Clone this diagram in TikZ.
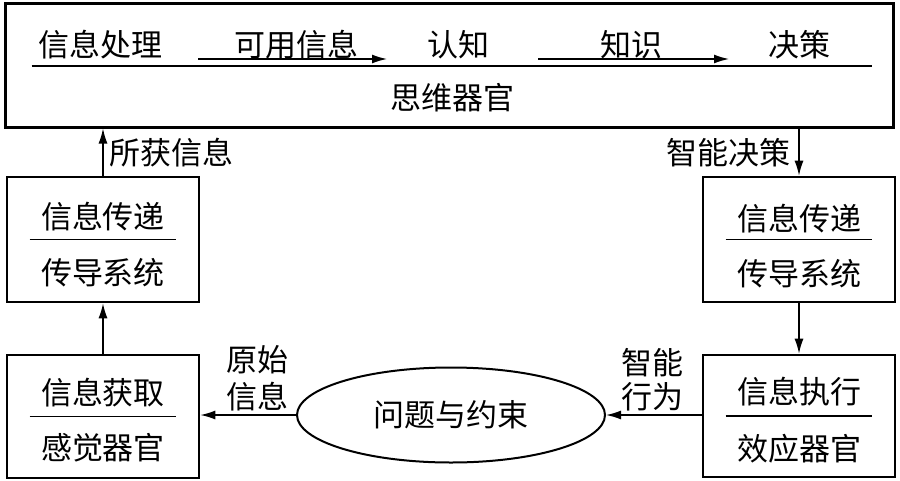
\documentclass[tikz,border=0pt]{standalone}
\usepackage{fontspec}
\setmainfont{Noto Sans CJK SC}
\usetikzlibrary{arrows.meta,calc,shapes.geometric}
\begin{document}
\begin{tikzpicture}[x=1pt,y=-1pt,
  txt/.style={font=\fontsize{31}{34}\selectfont, inner sep=0pt},
  box/.style={draw, line width=2.6pt, rectangle, inner sep=0pt},
  arr/.style={line width=1.5pt, -{Latex[length=15pt,width=9pt]}},
  divider/.style={line width=1.5pt}]
\useasboundingbox[fill=white] (0,0) rectangle (900,480);
% boxes
\node[box, line width=3pt, minimum width=888pt, minimum height=124pt] (top) at (449,65) {};
\node[box, minimum width=192pt, minimum height=125pt] (lm) at (103,239.5) {};
\node[box, minimum width=192pt, minimum height=123pt] (lb) at (103,416.5) {};
\node[box, minimum width=192pt, minimum height=125pt] (rm) at (799,239.5) {};
\node[box, minimum width=192pt, minimum height=122pt] (rb) at (799,416) {};
\node[draw, ellipse, line width=2pt, minimum width=308pt, minimum height=95pt, inner sep=0pt, txt] (ell) at (451,415) {问题与约束};
% top box content
\node[txt] (t1) at (100,45) {信息处理};
\node[txt] (t2) at (296,45) {可用信息};
\node[txt] (t3) at (458,45) {认知};
\node[txt] (t4) at (631,45) {知识};
\node[txt] (t5) at (799,45) {决策};
\node[txt] (t6) at (452,98) {思维器官};
\coordinate (a1s) at (198,59);
\coordinate (a1e) at (387,59);
\coordinate (a2s) at (538,59);
\coordinate (a2e) at (729,59);
\draw[arr] (a1s) -- (a1e);
\draw[arr] (a2s) -- (a2e);
\draw[divider] ($(top.west)+(28,1)$) -- ($(top.east)+(-23,1)$);
% side boxes content
\node[txt] (lm1) at (103,217) {信息传递};
\node[txt] (lm2) at (103,273) {传导系统};
\draw[divider] ($(lm.west)+(24,0)$) -- ($(lm.east)+(-24,0)$);
\node[txt] (lb1) at (103,393) {信息获取};
\node[txt] (lb2) at (103,448) {感觉器官};
\draw[divider] ($(lb.west)+(24,0)$) -- ($(lb.east)+(-24,0)$);
\node[txt] (rm1) at (799,219) {信息传递};
\node[txt] (rm2) at (799,274) {传导系统};
\draw[divider] ($(rm.west)+(24,0)$) -- ($(rm.east)+(-24,0)$);
\node[txt] (rb1) at (799,392) {信息执行};
\node[txt] (rb2) at (799,449) {效应器官};
\draw[divider] ($(rb.west)+(24,0)$) -- ($(rb.east)+(-24,0)$);
% connectors
\draw[arr] (lm.north) -- (lm.north |- top.south);
\draw[arr] (lb.north) -- (lm.south);
\draw[arr] (rm.north |- top.south) -- (rm.north);
\draw[arr] (rm.south) -- (rb.north);
\draw[arr] (ell.west) -- (ell.west -| lb.east);
\draw[arr] (ell.east -| rb.west) -- (ell.east);
% labels
\node[txt, anchor=west] (l1) at (109,153) {所获信息};
\node[txt, anchor=east] (l2) at (791,153) {智能决策};
\node[txt] (l3) at (257,360) {原始};
\node[txt] (l4) at (257,397) {信息};
\node[txt] (l5) at (652,363) {智能};
\node[txt] (l6) at (652,397) {行为};
\end{tikzpicture}
\end{document}
